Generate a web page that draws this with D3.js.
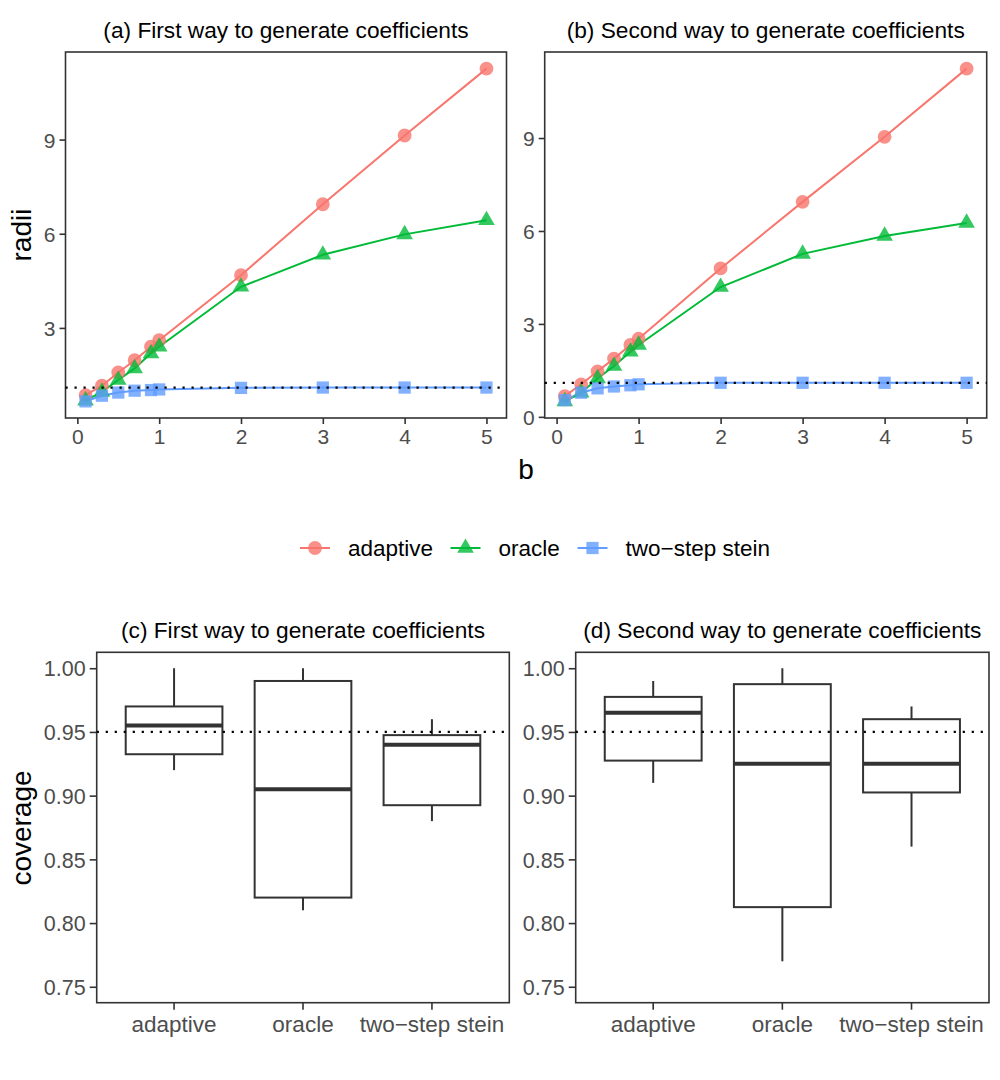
<!DOCTYPE html>
<html>
<head>
<meta charset="utf-8">
<script src="https://cdn.jsdelivr.net/npm/d3@7"></script>
<style>
  body { margin: 0; background: #fff; }
  svg { display: block; font-family: "Liberation Sans", Arial, sans-serif; }
</style>
</head>
<body>
<svg id="chart" width="1000" height="1080"></svg>
<script>
const bVals = [0.1, 0.3, 0.5, 0.7, 0.9, 1, 2, 3, 4, 5];
const bTicks = [0, 1, 2, 3, 4, 5];
const radiiTicks = [0, 3, 6, 9];
const methods = ["adaptive", "oracle", "two−step stein"];
const colors = ["#F8766D", "#00BA38", "#619CFF"];

// radii, panel (a)
const adaptiveA = [0.86, 1.16, 1.58, 1.97, 2.40, 2.61, 4.68, 6.94, 9.13, 11.26];
const oracleA = [0.68, 0.96, 1.34, 1.71, 2.19, 2.40, 4.31, 5.33, 5.98, 6.43];
const steinA = [0.66, 0.84, 0.94, 1.00, 1.02, 1.04, 1.09, 1.10, 1.10, 1.10];
// radii, panel (b)
const adaptiveB = [0.67, 1.05, 1.47, 1.88, 2.32, 2.52, 4.79, 6.94, 9.04, 11.24];
const oracleB = [0.50, 0.78, 1.24, 1.64, 2.10, 2.32, 4.19, 5.26, 5.84, 6.26];
const steinB = [0.54, 0.78, 0.92, 0.98, 1.02, 1.05, 1.10, 1.10, 1.10, 1.10];
const radiiRef = 1.1;

// coverage boxes: [ymin, lower, middle, upper, ymax]
const boxC = [[0.92, 0.9325, 0.955, 0.97, 1.00], [0.81, 0.82, 0.905, 0.99, 1.00], [0.88, 0.8925, 0.94, 0.9475, 0.96]];
const boxD = [[0.91, 0.9275, 0.965, 0.9775, 0.99], [0.77, 0.8125, 0.925, 0.9875, 1.00], [0.86, 0.9025, 0.925, 0.96, 0.97]];
const coverageLimits = [0.75, 1.00];
const coverageTicks = [0.75, 0.80, 0.85, 0.90, 0.95, 1.00];
const coverageRef = 0.95;

const titles = ["(a) First way to generate coefficients", "(b) Second way to generate coefficients",
                "(c) First way to generate coefficients", "(d) Second way to generate coefficients"];

const svg = d3.select("#chart");
const tickCol = "#4D4D4D";
const lineCol = "#333333";

function expand(ext, f) {
    const d = ext[1] - ext[0];
    return [ext[0] - d * f, ext[1] + d * f];
}

function frame(g, w, h) {
    g.append("rect")
        .attr("width", w).attr("height", h)
        .attr("fill", "none")
        .attr("stroke", lineCol)
        .attr("stroke-width", 1.6);
}

function styleAxis(ax, size) {
    ax.select(".domain").remove();
    ax.selectAll(".tick line").attr("stroke", lineCol).attr("stroke-width", 1.6);
    ax.selectAll(".tick text").attr("fill", tickCol).style("font-size", size + "px");
}

function linePanel(x0, y0, w, h, series, title) {
    const g = svg.append("g").attr("transform", `translate(${x0},${y0})`);
    const x = d3.scaleLinear().domain(expand(d3.extent(bVals), 0.05)).range([0, w]);
    const y = d3.scaleLinear().domain(expand(d3.extent(series.flat()), 0.05)).range([h, 0]);

    frame(g, w, h);

    const xa = g.append("g").attr("transform", `translate(0,${h})`)
        .call(d3.axisBottom(x).tickValues(bTicks).tickFormat(d3.format("d")).tickSize(6).tickPadding(5));
    styleAxis(xa, 21);
    const ya = g.append("g")
        .call(d3.axisLeft(y).tickValues(radiiTicks.filter(v => v >= y.domain()[0]))
            .tickFormat(d3.format("d")).tickSize(6).tickPadding(4));
    styleAxis(ya, 21);
    ya.selectAll(".tick text").attr("dy", "0.36em");

    const line = d3.line().x((d, i) => x(bVals[i])).y(d => y(d));
    series.forEach((s, k) => {
        g.append("path").datum(s)
            .attr("d", line)
            .attr("fill", "none")
            .attr("stroke", colors[k])
            .attr("stroke-width", 2);
    });
    const shapes = [d3.symbolCircle, d3.symbolTriangle, d3.symbolSquare];
    const sizes = [150, 120, 150];
    series.forEach((s, k) => {
        g.selectAll(null).data(s).enter().append("path")
            .attr("transform", (d, i) => `translate(${x(bVals[i])},${y(d)})`)
            .attr("d", d3.symbol().type(shapes[k]).size(sizes[k]))
            .attr("fill", colors[k])
            .attr("fill-opacity", 0.8);
    });

    g.append("line")
        .attr("x1", 0).attr("x2", w)
        .attr("y1", y(radiiRef)).attr("y2", y(radiiRef))
        .attr("stroke", "#000")
        .attr("stroke-width", 2.2)
        .attr("stroke-dasharray", "2.2 6.8");

    g.append("text")
        .attr("x", w / 2).attr("y", -14)
        .attr("text-anchor", "middle")
        .style("font-size", "22.7px")
        .text(title);
    return g;
}

function boxPanel(x0, y0, w, h, boxes, title) {
    const g = svg.append("g").attr("transform", `translate(${x0},${y0})`);
    const x = d3.scaleBand().domain(methods).range([0, w]).paddingOuter(0.1).paddingInner(0);
    const y = d3.scaleLinear().domain(expand(coverageLimits, 0.05)).range([h, 0]);
    const bw = x.bandwidth() * 0.75;

    frame(g, w, h);

    const xa = g.append("g").attr("transform", `translate(0,${h})`)
        .call(d3.axisBottom(x).tickSize(7).tickPadding(6));
    styleAxis(xa, 22.5);
    const ya = g.append("g")
        .call(d3.axisLeft(y).tickValues(coverageTicks).tickFormat(d3.format(".2f")).tickSize(7).tickPadding(4));
    styleAxis(ya, 21.5);
    ya.selectAll(".tick text").attr("dy", "0.36em");

    const bg = g.selectAll(".box").data(boxes).enter().append("g")
        .attr("transform", (d, i) => `translate(${x(methods[i]) + x.bandwidth() / 2},0)`);
    bg.append("line")
        .attr("y1", d => y(d[0])).attr("y2", d => y(d[1]))
        .attr("stroke", lineCol).attr("stroke-width", 2);
    bg.append("line")
        .attr("y1", d => y(d[3])).attr("y2", d => y(d[4]))
        .attr("stroke", lineCol).attr("stroke-width", 2);
    bg.append("rect")
        .attr("x", -bw / 2).attr("width", bw)
        .attr("y", d => y(d[3])).attr("height", d => y(d[1]) - y(d[3]))
        .attr("fill", "#fff")
        .attr("stroke", lineCol).attr("stroke-width", 2);
    bg.append("line")
        .attr("x1", -bw / 2).attr("x2", bw / 2)
        .attr("y1", d => y(d[2])).attr("y2", d => y(d[2]))
        .attr("stroke", lineCol).attr("stroke-width", 4);

    g.append("line")
        .attr("x1", 0).attr("x2", w)
        .attr("y1", y(coverageRef)).attr("y2", y(coverageRef))
        .attr("stroke", "#000")
        .attr("stroke-width", 2.2)
        .attr("stroke-dasharray", "2.2 6.8");

    g.append("text")
        .attr("x", w / 2).attr("y", -14)
        .attr("text-anchor", "middle")
        .style("font-size", "22.7px")
        .text(title);
    return g;
}

linePanel(65.5, 52, 441, 366, [adaptiveA, oracleA, steinA], titles[0]);
linePanel(544.7, 52, 442, 366, [adaptiveB, oracleB, steinB], titles[1]);
boxPanel(96.7, 652.3, 412.6, 350.4, boxC, titles[2]);
boxPanel(575.7, 652.3, 413.3, 350.4, boxD, titles[3]);

// axis titles
svg.append("text")
    .attr("transform", "translate(31,235) rotate(-90)")
    .attr("text-anchor", "middle")
    .style("font-size", "28px")
    .text("radii");
svg.append("text")
    .attr("transform", "translate(31,828) rotate(-90)")
    .attr("text-anchor", "middle")
    .style("font-size", "28px")
    .text("coverage");
svg.append("text")
    .attr("x", 526).attr("y", 479)
    .attr("text-anchor", "middle")
    .style("font-size", "28px")
    .text("b");

// legend
const legendX = [315, 465.5, 592.5];
const legendShapes = [d3.symbolCircle, d3.symbolTriangle, d3.symbolSquare];
const legend = svg.append("g").attr("transform", "translate(0,548)");
methods.forEach((m, k) => {
    const lg = legend.append("g").attr("transform", `translate(${legendX[k]},0)`);
    lg.append("line")
        .attr("x1", -15).attr("x2", 15)
        .attr("stroke", colors[k]).attr("stroke-width", 2);
    lg.append("path")
        .attr("d", d3.symbol().type(legendShapes[k]).size(k === 1 ? 120 : 150))
        .attr("fill", colors[k])
        .attr("fill-opacity", 0.8);
    lg.append("text")
        .attr("x", 33).attr("y", 7.5)
        .style("font-size", "22.5px")
        .text(m);
});
</script>
</body>
</html>
